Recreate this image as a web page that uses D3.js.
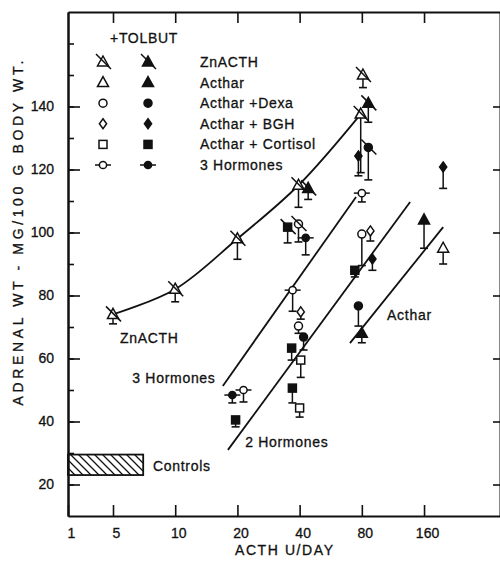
<!DOCTYPE html>
<html>
<head>
<meta charset="utf-8">
<script src="https://cdn.jsdelivr.net/npm/d3@7"></script>
<style>
body { margin: 0; background: #fff; }
svg text { font-family: "Liberation Sans", Arial, sans-serif; fill: #111; stroke: #111; stroke-width: 0.3px; }
</style>
</head>
<body>
<svg id="chart" width="500" height="561"></svg>
<script>
// x ticks (U/day); "1" sits at the origin, the rest are log spaced
const doseTicks = [1, 5, 10, 20, 40, 80, 160]
const wtTicks = [20, 40, 60, 80, 100, 120, 140]
const wtMinor = [20, 30, 40, 50, 60, 70, 80, 90, 100, 110, 120, 130, 140, 150, 160]

// points: [dose, mean, end of error bar, crossed]
const znActh = [[5, 74, 71], [10, 82, 78], [20, 98, 91.5], [39.5, 115, 108], [79, 137.6, 119], [81, 150, 146]]
const znActhTol = [[44, 114, 110.5], [86, 141, 135]]
const acthar = [[198, 95, 90]]
const actharTol = [[80, 68, 65], [160, 104, 95]]
const dexa = [[80, 99.5, 89.5], [39.5, 70.3, 68], [39.5, 102.7, 97, true]]
const dexaTol = [[77, 76.7, 70.3], [41.8, 66.8, 62.7], [86, 127, 116.7, true]]
const bgh = [[88, 100.5, 97.3], [40.5, 74.8, 72.5]]
const bghTol = [[90, 91.6, 88], [77, 124.3, 118], [198, 120.8, 114]]
const cortisol = [[40.5, 59.5, 54], [40, 44.3, 41.4]]
const cortisolTol = [[74, 88, 85.9], [36.6, 63.3, 59.5], [36.9, 50.6, 45.9], [19.6, 40.5, 38.3], [35, 101.7, 96.7, true]]
const threeH = [[21.4, 50, 46.2], [37, 81.7, 75], [80, 112.5, 109.7]]
const threeHTol = [[18.9, 48.4, 45.9], [42.8, 98.3, 92.9]]

// fitted lines [dose, wt]
const line3H = [[17, 51.3], [75, 111.3]]
const line2H = [[18, 31], [137, 109.7]]
const lineActhar = [[70.1, 64.9], [198, 101.7]]

// controls band: dose range, wt range
const controlsDose = [1, 7]
const controlsWt = [23, 29.5]

const legendNames = ['ZnACTH', 'Acthar', 'Acthar +Dexa', 'Acthar + BGH', 'Acthar + Cortisol', '3 Hormones']
const legendTypes = ['tri', 'tri', 'circ', 'dia', 'sq', 'hcirc']

const svg = d3.select('#chart')

const x = d3.scaleLog().domain([1, 5, 373]).range([68, 113, 500])
const y = d3.scaleLinear().domain([10, 170]).range([516, 12])

const ink = '#111'

// hatch for controls
svg.append('defs').append('pattern')
.attr('id', 'hatch')
.attr('patternUnits', 'userSpaceOnUse')
.attr('width', 8).attr('height', 8)
.append('path')
.attr('d', 'M-2,-2L10,10M-2,6L2,10M6,-2L10,2')
.attr('stroke', ink).attr('stroke-width', 1.3)

// axes
const bottomAxis = svg.append('g')
.attr('transform', 'translate(0,516)')
.call(d3.axisBottom(x).tickValues(doseTicks).tickFormat(d3.format('d')).tickSizeInner(-11).tickSizeOuter(0).tickPadding(12))

svg.append('g')
.attr('transform', 'translate(0,12)')
.call(d3.axisTop(x).tickValues(doseTicks.slice(1)).tickFormat('').tickSizeInner(-11).tickSizeOuter(0))

svg.append('g')
.attr('transform', 'translate(68,0)')
.call(d3.axisLeft(y).tickValues(wtMinor).tickFormat('').tickSizeInner(-6).tickSizeOuter(0))

svg.append('g')
.attr('transform', 'translate(68,0)')
.call(d3.axisLeft(y).tickValues(wtTicks).tickSizeInner(-12).tickSizeOuter(0).tickPadding(14))

svg.append('g')
.attr('transform', 'translate(500,0)')
.call(d3.axisRight(y).tickValues(wtTicks).tickFormat('').tickSizeInner(-7).tickSizeOuter(0))

svg.selectAll('.domain').attr('stroke', ink).attr('stroke-width', 2)
svg.selectAll('.tick line').attr('stroke', ink).attr('stroke-width', 1.6)
svg.selectAll('.tick text').style('font-size', '14px').attr('fill', ink)
bottomAxis.selectAll('.tick text').attr('dx', 3)

// axis titles
svg.append('text')
.attr('x', 284).attr('y', 555)
.attr('text-anchor', 'middle')
.attr('textLength', 98).attr('lengthAdjust', 'spacing')
.style('font-size', '14px')
.text('ACTH U/DAY')

svg.append('text')
.attr('transform', 'translate(23,233) rotate(-90)')
.attr('text-anchor', 'middle')
.attr('textLength', 345).attr('lengthAdjust', 'spacing')
.style('font-size', '14px')
.text('ADRENAL WT - MG/100 G BODY WT.')

// controls
svg.append('rect')
.attr('x', x(controlsDose[0]))
.attr('y', y(controlsWt[1]))
.attr('width', x(controlsDose[1]) - x(controlsDose[0]))
.attr('height', y(controlsWt[0]) - y(controlsWt[1]))
.attr('fill', 'url(#hatch)')
.attr('stroke', ink).attr('stroke-width', 1.8)

// fitted lines
const line = d3.line().x(d => x(d[0])).y(d => y(d[1]))

svg.append('path')
.datum(znActh.slice(0, 5))
.attr('d', line.curve(d3.curveCatmullRom.alpha(0.5)))
.attr('fill', 'none').attr('stroke', ink).attr('stroke-width', 1.8)

line.curve(d3.curveLinear)
;[line3H, line2H, lineActhar].forEach(l => {
	svg.append('path')
	.datum(l)
	.attr('d', line)
	.attr('fill', 'none').attr('stroke', ink).attr('stroke-width', 1.8)
})

// line labels
const labels = [
	{ text: 'ZnACTH', dose: 5.4, wt: 65 },
	{ text: '3 Hormones', dose: 6.2, wt: 52.2 },
	{ text: '2 Hormones', dose: 21.8, wt: 31.9 },
	{ text: 'Acthar', dose: 106, wt: 72.2 },
	{ text: 'Controls', dose: 7.8, wt: 24.3 }
]

svg.append('g').selectAll('text')
.data(labels)
.enter()
.append('text')
.attr('x', d => x(d.dose))
.attr('y', d => y(d.wt))
.style('font-size', '14px')
.style('letter-spacing', '0.7px')
.text(d => d.text)

// markers
const drawMark = (g, type, filled, crossed) => {
	const fill = filled ? ink : '#fff'
	if (type === 'tri') g.append('path').attr('d', 'M0,-6L5.5,4L-5.5,4Z')
	if (type === 'circ') g.append('circle').attr('r', 4)
	if (type === 'dia') g.append('path').attr('d', 'M0,-5L3.6,0L0,5L-3.6,0Z')
	if (type === 'sq') g.append('rect').attr('x', -4).attr('y', -4).attr('width', 8).attr('height', 8)
	if (type === 'hcirc') {
		g.append('line').attr('x1', -8).attr('x2', 8)
		g.append('circle').attr('r', 3.6)
	}
	g.selectAll('path, circle, rect').attr('fill', fill).attr('stroke', ink).attr('stroke-width', 1.5)
	g.selectAll('line').attr('stroke', ink).attr('stroke-width', 1.5)
	if (crossed) {
		g.append('line')
		.attr('x1', -7).attr('y1', -8).attr('x2', 8).attr('y2', 7)
		.attr('stroke', ink).attr('stroke-width', 1.5)
	}
}

const series = [
	{ data: cortisol, type: 'sq', filled: false },
	{ data: cortisolTol, type: 'sq', filled: true },
	{ data: bgh, type: 'dia', filled: false },
	{ data: bghTol, type: 'dia', filled: true },
	{ data: dexa, type: 'circ', filled: false },
	{ data: dexaTol, type: 'circ', filled: true },
	{ data: threeH, type: 'hcirc', filled: false },
	{ data: threeHTol, type: 'hcirc', filled: true },
	{ data: acthar, type: 'tri', filled: false },
	{ data: actharTol, type: 'tri', filled: true },
	{ data: znActh, type: 'tri', filled: false, slash: true },
	{ data: znActhTol, type: 'tri', filled: true, slash: true }
]

const bars = svg.append('g')
const marks = svg.append('g')

series.forEach(s => {
	s.data.forEach(d => {
		const px = x(d[0])
		bars.append('line')
		.attr('x1', px).attr('x2', px)
		.attr('y1', y(d[1])).attr('y2', y(d[2]))
		.attr('stroke', ink).attr('stroke-width', 1.5)
		bars.append('line')
		.attr('x1', px - 4).attr('x2', px + 4)
		.attr('y1', y(d[2])).attr('y2', y(d[2]))
		.attr('stroke', ink).attr('stroke-width', 1.6)

		let g = marks.append('g').attr('transform', `translate(${px},${y(d[1])})`)
		drawMark(g, s.type, s.filled, s.slash || d[3])
	})
})

// legend
svg.append('text')
.attr('x', 110).attr('y', 43)
.style('font-size', '14px')
.style('letter-spacing', '0.7px')
.text('+TOLBUT')

const legend = svg.append('g')

legendNames.forEach((name, i) => {
	let ly = 62 + i * 20.6
	drawMark(legend.append('g').attr('transform', `translate(103,${ly})`), legendTypes[i], false, i === 0)
	drawMark(legend.append('g').attr('transform', `translate(148,${ly})`), legendTypes[i], true, i === 0)
	legend.append('text')
	.attr('x', 200).attr('y', ly + 5)
	.style('font-size', '14px')
	.style('letter-spacing', '0.7px')
	.text(name)
})
</script>
</body>
</html>
